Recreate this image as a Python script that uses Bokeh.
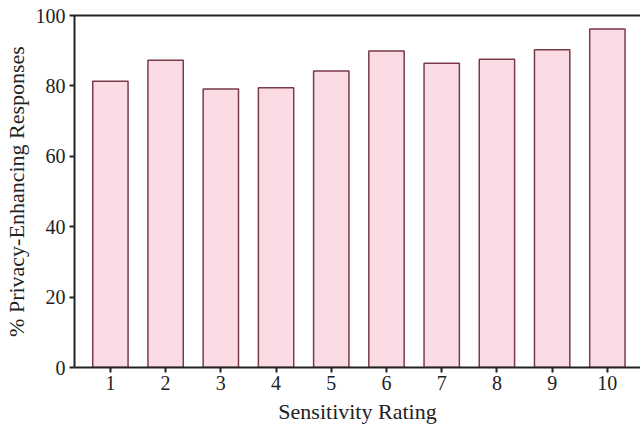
from bokeh.plotting import figure
from bokeh.models import LinearAxis, Range1d, FixedTicker
from bokeh.embed import file_html
from bokeh.resources import INLINE

ratings = [1, 2, 3, 4, 5, 6, 7, 8, 9, 10]
values = [81.3, 87.3, 79.1, 79.5, 84.2, 89.9, 86.4, 87.6, 90.3, 96.2]
y_ticks = [0, 20, 40, 60, 80, 100]

FONT = "Liberation Serif"
AX = "#222222"

p = figure(width=640, height=429, output_backend="svg", toolbar_location=None,
           x_range=Range1d(0.35, 10.6), y_range=Range1d(0, 100),
           min_border_left=72, min_border_right=0, min_border_top=15, min_border_bottom=62)
p.outline_line_color = None
p.grid.grid_line_color = None
p.background_fill_color = "white"

p.vbar(x=ratings, top=values, width=0.64, bottom=0,
       fill_color="#fbdbe4", line_color="#7a3a48", line_width=1.5)

for ax in (p.xaxis[0], p.yaxis[0]):
    ax.axis_line_width = 2
    ax.axis_line_color = AX
    ax.major_tick_line_width = 2
    ax.major_tick_line_color = AX
    ax.major_tick_out = 5
    ax.major_tick_in = 0
    ax.minor_tick_line_color = None
    ax.major_label_text_font = FONT
    ax.major_label_text_font_size = "20px"
    ax.major_label_text_color = "#222222"
    ax.axis_label_text_font = FONT
    ax.axis_label_text_font_size = "22px"
    ax.axis_label_text_font_style = "normal"
    ax.axis_label_text_color = "#222222"

p.xaxis.ticker = FixedTicker(ticks=ratings)
p.yaxis.ticker = FixedTicker(ticks=y_ticks)
p.xaxis.axis_label = "Sensitivity Rating"
p.yaxis.axis_label = "% Privacy-Enhancing Responses"
p.xaxis.major_label_standoff = 3
p.yaxis.major_label_standoff = 4
p.xaxis.axis_label_standoff = 6
p.yaxis.axis_label_standoff = 4

top = LinearAxis(ticker=FixedTicker(ticks=[]), axis_line_width=2, axis_line_color=AX,
                 major_tick_line_color=None, minor_tick_line_color=None,
                 major_label_text_font_size="0px")
p.add_layout(top, "above")

open("out.html", "w").write(file_html(p, INLINE))
